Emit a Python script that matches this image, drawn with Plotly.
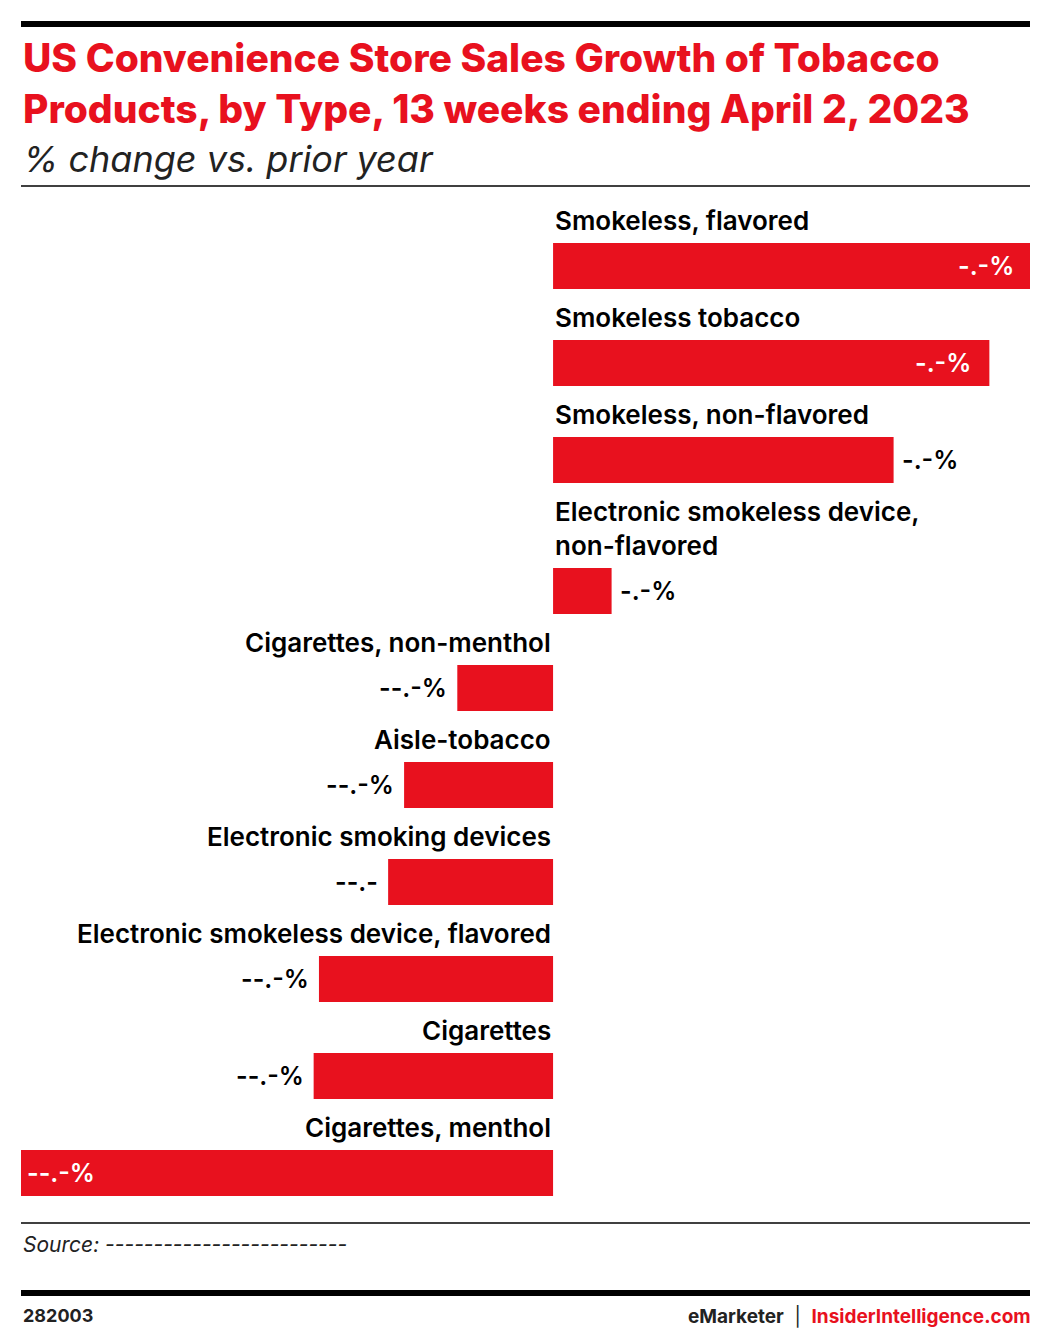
import plotly.graph_objects as go

categories = ["Smokeless, flavored", "Smokeless tobacco", "Smokeless, non-flavored",
              "Electronic smokeless device,<br>non-flavored", "Cigarettes, non-menthol",
              "Aisle-tobacco", "Electronic smoking devices",
              "Electronic smokeless device, flavored", "Cigarettes", "Cigarettes, menthol"]
values = [9.0, 8.2, 6.4, 1.1, -1.8, -2.8, -3.1, -4.4, -4.5, -10.0]
value_labels = ["-.-%", "-.-%", "-.-%", "-.-%", "--.-%", "--.-%", "--.-", "--.-%", "--.-%", "--.-%"]
inside = [True, True, False, False, False, False, False, False, False, True]

RED = "#e8111e"
FONT = "Inter"
W, H = 1038, 1331
L, R, T, B = 13, 13, 195, 131
XMIN, XMAX = -10.0, 9.02

# row centres in pixels (extra room for the two-line label)
ys = []
y = 258
for i, c in enumerate(categories):
    ys.append(y)
    y += 131 if i == 2 else 97

def px(x):
    return (x - L) / (W - L - R)

def py(y):
    return 1 - (y - T) / (H - T - B)

fig = go.Figure(go.Bar(x=values, y=ys, orientation="h", width=46,
                       marker=dict(color=RED, line=dict(width=0)), hoverinfo="skip"))

ann = []
for c, v, y, lab, ins in zip(categories, values, ys, value_labels, inside):
    ann.append(dict(x=0, y=y - 28, xref="x", yref="y", text=c, showarrow=False,
                    xanchor="left" if v > 0 else "right", yanchor="bottom",
                    align="left" if v > 0 else "right",
                    font=dict(family=FONT, size=26, color="#000", weight=600)))
    if ins:
        ann.append(dict(x=v, y=y, xref="x", yref="y", text=lab, showarrow=False,
                        xanchor="right" if v > 0 else "left", xshift=-16 if v > 0 else 4,
                        font=dict(family=FONT, size=25, color="white", weight=600)))
    else:
        ann.append(dict(x=v, y=y, xref="x", yref="y", text=lab, showarrow=False,
                        xanchor="left" if v > 0 else "right", xshift=6 if v > 0 else -8,
                        font=dict(family=FONT, size=25, color="#000", weight=600)))

ann += [
    dict(x=px(13), y=py(24), text="US Convenience Store Sales Growth of Tobacco<br>Products, by Type, 13 weeks ending April 2, 2023",
         font=dict(family=FONT, size=39, color=RED, weight=800)),
    dict(x=px(13), y=py(127), text="<i>% change vs. prior year</i>",
         font=dict(family=FONT, size=36, color="#222")),
    dict(x=px(13), y=py(1222), text="<i>Source: -------------------------</i>",
         font=dict(family=FONT, size=21, color="#222")),
    dict(x=px(13), y=py(1295), text="<b>282003</b>",
         font=dict(family=FONT, size=18, color="#222")),
]
for a in ann[-4:]:
    a.update(xref="paper", yref="paper", xanchor="left", yanchor="top", showarrow=False, align="left")
ann.append(dict(x=px(1025), y=py(1295), xref="paper", yref="paper", xanchor="right", yanchor="top",
                showarrow=False,
                text="<b>eMarketer</b>  |  <b><span style='color:%s'>InsiderIntelligence.com</span></b>" % RED,
                font=dict(family=FONT, size=19, color="#222")))

shapes = [
    dict(type="line", xref="paper", yref="paper", x0=0, x1=1, y0=py(16), y1=py(16), line=dict(color="#000", width=6)),
    dict(type="line", xref="paper", yref="paper", x0=0, x1=1, y0=py(178), y1=py(178), line=dict(color="#000", width=1.5)),
    dict(type="line", xref="paper", yref="paper", x0=0, x1=1, y0=py(1215), y1=py(1215), line=dict(color="#000", width=1.5)),
    dict(type="line", xref="paper", yref="paper", x0=0, x1=1, y0=py(1285), y1=py(1285), line=dict(color="#000", width=6)),
]

fig.update_layout(
    width=W, height=H, margin=dict(l=L, r=R, t=T, b=B),
    paper_bgcolor="white", plot_bgcolor="white", showlegend=False,
    xaxis=dict(range=[XMIN, XMAX], visible=False, fixedrange=True),
    yaxis=dict(range=[H - B, T], visible=False, fixedrange=True),
    annotations=ann, shapes=shapes,
)
fig.write_html("out.html")
